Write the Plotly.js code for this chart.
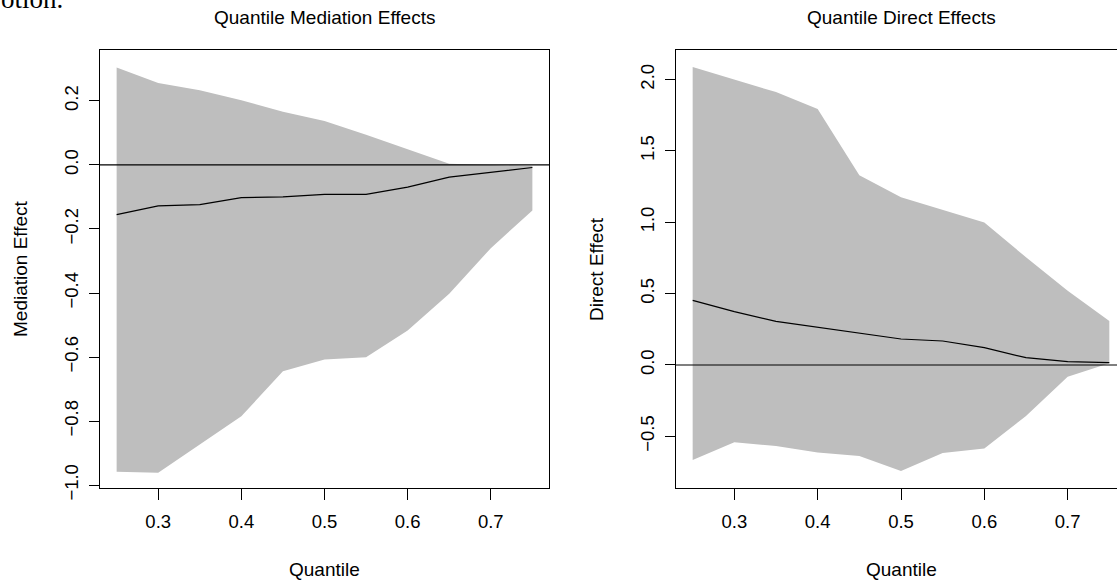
<!DOCTYPE html>
<html>
<head>
<meta charset="utf-8">
<script src="https://cdn.plot.ly/plotly-3.0.1.min.js"></script>
<style>
html, body { margin: 0; padding: 0; overflow: hidden; background: #fff; }
#chart { width: 1117px; height: 581px; }
</style>
</head>
<body>
<div id="chart"></div>
<script>
// Quantile levels
var quantiles = [0.25, 0.30, 0.35, 0.40, 0.45, 0.50, 0.55, 0.60, 0.65, 0.70, 0.75];

// Quantile Mediation Effects
var medUpper = [0.304, 0.256, 0.233, 0.202, 0.166, 0.137, 0.094, 0.049, 0.004, 0.000, -0.003];
var medEst   = [-0.155, -0.128, -0.124, -0.102, -0.100, -0.092, -0.092, -0.069, -0.038, -0.022, -0.008];
var medLower = [-0.958, -0.961, -0.873, -0.785, -0.644, -0.608, -0.601, -0.517, -0.402, -0.260, -0.142];

// Quantile Direct Effects
var dirUpper = [2.088, 2.000, 1.912, 1.793, 1.330, 1.176, 1.087, 0.998, 0.755, 0.520, 0.308];
var dirEst   = [0.453, 0.374, 0.306, 0.266, 0.222, 0.182, 0.168, 0.121, 0.051, 0.023, 0.016];
var dirLower = [-0.666, -0.542, -0.568, -0.614, -0.638, -0.743, -0.617, -0.586, -0.357, -0.082, 0.012];

// Tick values and labels
var xTickVals = [0.3, 0.4, 0.5, 0.6, 0.7];
var xTickText = ["0.3", "0.4", "0.5", "0.6", "0.7"];
var medTickVals = [-1.0, -0.8, -0.6, -0.4, -0.2, 0.0, 0.2];
var medTickText = ["\u22121.0", "\u22120.8", "\u22120.6", "\u22120.4", "\u22120.2", "0.0", "0.2"];
var dirTickVals = [-0.5, 0.0, 0.5, 1.0, 1.5, 2.0];
var dirTickText = ["\u22120.5", "0.0", "0.5", "1.0", "1.5", "2.0"];

// Texts
var titles = ["Quantile Mediation Effects", "Quantile Direct Effects"];
var xTitle = "Quantile";
var yTitles = ["Mediation Effect", "Direct Effect"];
var strayText = "otion.";

var W = 1117, H = 581;
function px(x) { return x / W; }
function py(y) { return 1 - y / H; }

var BAND = "#bebebe";
var FONT = "Liberation Sans, Arial, Helvetica, sans-serif";

function band(x, lo, hi, xa, ya) {
  return [
    { x: x, y: lo, xaxis: xa, yaxis: ya, type: "scatter", mode: "lines",
      line: { width: 0, color: BAND }, hoverinfo: "skip", showlegend: false },
    { x: x, y: hi, xaxis: xa, yaxis: ya, type: "scatter", mode: "lines",
      line: { width: 0, color: BAND }, fill: "tonexty", fillcolor: BAND,
      hoverinfo: "skip", showlegend: false }
  ];
}
function est(x, y, xa, ya) {
  return { x: x, y: y, xaxis: xa, yaxis: ya, type: "scatter", mode: "lines",
    line: { width: 1.2, color: "#000" }, showlegend: false };
}

var data = [].concat(
  band(quantiles, medLower, medUpper, "x", "y"),
  [est(quantiles, medEst, "x", "y")],
  band(quantiles, dirLower, dirUpper, "x2", "y2"),
  [est(quantiles, dirEst, "x2", "y2")]
);

var tickFont = { family: FONT, size: 18.5, color: "#000" };
var yDom = [py(488), py(50)];

function xAxis(domain, range, anchor) {
  return {
    domain: domain, range: range, anchor: anchor,
    tickmode: "array", tickvals: xTickVals, ticktext: xTickText,
    ticks: "outside", ticklen: 11, tickwidth: 1, tickcolor: "#000",
    tickfont: tickFont, showgrid: false, zeroline: false,
    showline: true, linecolor: "#000", linewidth: 1, mirror: true,
    ticklabelstandoff: 6
  };
}
function yAxis(range, vals, text, anchor, mirror) {
  return {
    domain: yDom, range: range, anchor: anchor,
    tickmode: "array", tickvals: vals, ticktext: text, tickangle: -90,
    ticks: "outside", ticklen: 10, tickwidth: 1, tickcolor: "#000",
    tickfont: tickFont, showgrid: false, zeroline: false,
    showline: true, linecolor: "#000", linewidth: 1, mirror: mirror,
    ticklabelstandoff: 4
  };
}

var ann = [];
function addText(t, x, y, opts) {
  var a = { text: t, x: px(x), y: py(y), xref: "paper", yref: "paper",
    showarrow: false, xanchor: "center", yanchor: "middle",
    font: { family: FONT, size: 19, color: "#000" } };
  for (var k in opts) a[k] = opts[k];
  ann.push(a);
}
addText(titles[0], 324.5, 17);
addText(titles[1], 901, 17);
addText(xTitle, 324.5, 569);
addText(xTitle, 901, 569);
addText(yTitles[0], 20, 269, { textangle: -90 });
addText(yTitles[1], 596, 269, { textangle: -90 });
addText(strayText, -1, 16, { xanchor: "left", yanchor: "bottom",
  font: { family: "Liberation Serif, Times New Roman, serif", size: 27, color: "#000" } });

var layout = {
  width: W, height: H,
  margin: { l: 0, r: 0, t: 0, b: 0, pad: 0 },
  paper_bgcolor: "#fff", plot_bgcolor: "#fff",
  showlegend: false,
  xaxis: xAxis([px(100), px(549)], [0.23, 0.77], "y"),
  yaxis: yAxis([-1.009, 0.359], medTickVals, medTickText, "x", true),
  xaxis2: xAxis([px(676), 1], [0.23, 0.7592], "y2"),
  yaxis2: yAxis([-0.862, 2.207], dirTickVals, dirTickText, "x2", false),
  shapes: [
    { type: "line", xref: "x domain", yref: "y", x0: 0, x1: 1, y0: 0, y1: 0,
      line: { color: "#000", width: 1.2 }, layer: "above" },
    { type: "line", xref: "x2 domain", yref: "y2", x0: 0, x1: 1, y0: 0, y1: 0,
      line: { color: "#000", width: 1.2 }, layer: "above" }
  ],
  annotations: ann
};

Plotly.newPlot("chart", data, layout, { displayModeBar: false, staticPlot: true });
</script>
</body>
</html>
